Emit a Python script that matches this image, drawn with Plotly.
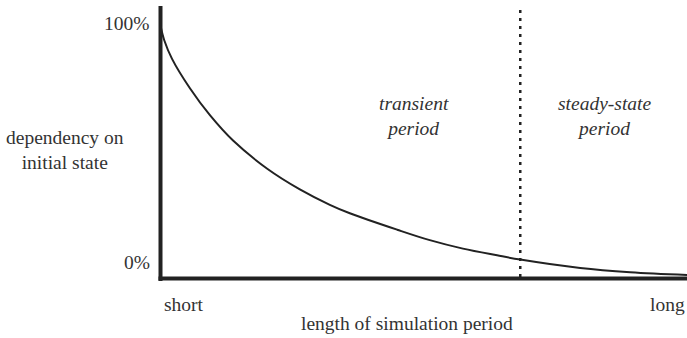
import plotly.graph_objects as go

# Dependency on the initial state vs. length of the simulation period (percent)
sim_length = [0, 0.6, 2.1, 5.5, 9.3, 13.7, 20.2, 26.4, 32.1, 35.9, 44.9,
              51.1, 57.4, 63.9, 68.3, 79.7, 89.2, 100]
dependency = [100, 95.2, 87.6, 75.8, 65.0, 54.8, 43.5, 35.2, 29.0, 25.6, 19.0,
              14.8, 11.4, 8.7, 7.0, 3.6, 1.9, 0.8]

# Boundary between the transient and steady-state periods
steady_start = 68.3

W, H = 687, 338
L, R, T, B = 161, 0, 6, 59
FONT = "Liberation Serif"
INK = "#222222"
TXT = "#333333"


def px(x):
    return (x - L) / (W - L - R)


def py(y):
    return (H - B - y) / (H - T - B)


fig = go.Figure()
fig.add_trace(go.Scatter(
    x=sim_length, y=dependency, mode="lines",
    line=dict(color=INK, width=2, shape="spline", smoothing=1.0),
    hoverinfo="skip", showlegend=False,
))

fig.update_xaxes(range=[0, 100], visible=False, fixedrange=True)
fig.update_yaxes(range=[-0.8, 108.84], visible=False, fixedrange=True)

shapes = [
    # vertical axis
    dict(type="line", xref="paper", yref="paper", x0=px(160.5), x1=px(160.5),
         y0=py(281), y1=1, line=dict(color=INK, width=4)),
    # horizontal axis
    dict(type="line", xref="paper", yref="paper", x0=px(158.5), x1=1,
         y0=py(278.5), y1=py(278.5), line=dict(color=INK, width=4)),
    # transient / steady-state boundary
    dict(type="line", xref="x", yref="paper", x0=steady_start, x1=steady_start,
         y0=py(277), y1=py(5), line=dict(color=INK, width=2.5, dash="3px,5px")),
]

ann = []


def label(text, x, y, xanchor="center", italic=False):
    if italic:
        text = "<i>" + text.replace("<br>", "</i><br><i>") + "</i>"
    ann.append(dict(
        text=text, xref="paper", yref="paper", x=px(x), y=py(y),
        xanchor=xanchor, yanchor="middle", showarrow=False,
        font=dict(family=FONT, size=19.5, color=TXT),
    ))


label("100%", 152, 24, "right")
label("0%", 152, 262, "right")
label("dependency on<br>initial state", 65, 150)
label("short", 162, 304, "left")
label("long", 687, 304, "right")
label("length of simulation period", 407, 323)
label("transient<br>period", 414, 116, italic=True)
label("steady-state<br>period", 604, 116, italic=True)

fig.update_layout(
    width=W, height=H,
    margin=dict(l=L, r=R, t=T, b=B),
    font=dict(family=FONT, size=19.5, color=TXT),
    paper_bgcolor="white", plot_bgcolor="white",
    shapes=shapes, annotations=ann,
)

fig.write_html("out.html", config={"displayModeBar": False})
